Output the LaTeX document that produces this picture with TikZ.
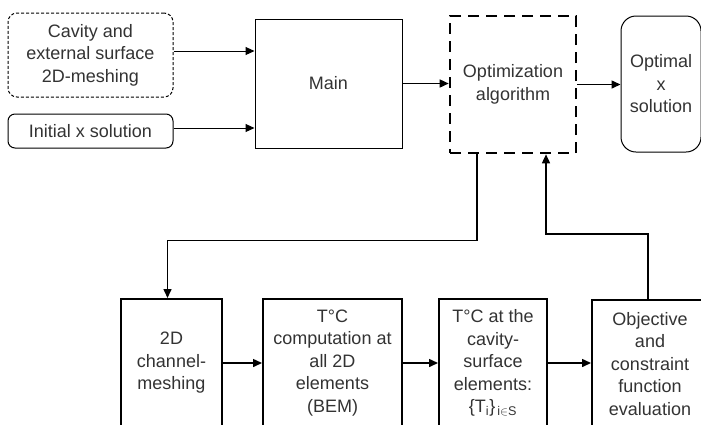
\documentclass[tikz,border=0pt]{standalone}
\usepackage{fontspec}
\setmainfont{Liberation Sans}
\usetikzlibrary{arrows.meta}
\definecolor{txt}{HTML}{333333}
\tikzset{
  base/.style={draw=black, align=center, text=txt, inner sep=2pt,
    font=\fontsize{18}{22.5}\selectfont},
  thinbox/.style={base, line width=1pt},
  lowbox/.style={base, line width=2pt, minimum height=128pt},
  arr/.style={line width=1.5pt, -{Triangle[length=9pt,width=8pt]}},
}
\begin{document}
\begin{tikzpicture}[x=1pt,y=-1pt]
\clip (0,0) rectangle (701,424);
\fill[white] (0,0) rectangle (701,424);
% top row
\node[thinbox, rounded corners=9pt, dash pattern=on 3pt off 2pt,
  minimum width=165pt, minimum height=84pt] (cav) at (90.5,55)
  {Cavity and\\external surface\\2D-meshing};
\node[thinbox, rounded corners=7pt, minimum width=165pt, minimum height=34pt]
  (init) at (90.5,131) {Initial x solution};
\node[thinbox, minimum width=147pt, minimum height=129pt] (main) at (328.5,83.5) {Main};
\node[base, line width=2.6pt, dash pattern=on 11pt off 7pt,
  minimum width=126pt, minimum height=137pt] (opt) at (513,84.5)
  {Optimization\\algorithm};
\node[thinbox, rounded corners=15pt, minimum width=80pt, minimum height=136pt]
  (optimal) at (661,84) {Optimal\\x\\solution};
% bottom row
\node[lowbox, minimum width=101pt] (b1) at (171.5,363) {2D\\channel-\\meshing};
\node[lowbox, minimum width=139pt] (b2) at (332.5,363)
  {T°C\\computation at\\all 2D\\elements\\(BEM)};
\node[lowbox, minimum width=108pt] (b3) at (493,363)
  {T°C at the\\cavity-\\surface\\elements:\\\{T\textsubscript{i}\}\textsubscript{\,i$\in$S}};
\node[lowbox, minimum width=116pt] (b4) at (650,364)
  {Objective\\and\\constraint\\function\\evaluation};
% connectors
\draw[arr, line width=1pt] ([yshift=4pt]cav.east) -- ([yshift=4pt]cav.east -| main.west);
\draw[arr, line width=1pt] ([yshift=3pt]init.east) -- ([yshift=3pt]init.east -| main.west);
\draw[arr] (main.east) -- (main.east -| opt.west);
\draw[arr] (opt.east) -- (opt.east -| optimal.west);
\draw[arr] ([xshift=-36pt]opt.south) -- ++(0,86) -| ([xshift=-4pt]b1.north);
\draw[arr] ([xshift=-2pt]b4.north) -- ++(0,-65) -| ([xshift=33pt]opt.south);
\draw[arr] (b1.east) -- (b2.west);
\draw[arr] (b2.east) -- (b3.west);
\draw[arr] (b3.east) -- (b3.east -| b4.west);
\end{tikzpicture}
\end{document}
